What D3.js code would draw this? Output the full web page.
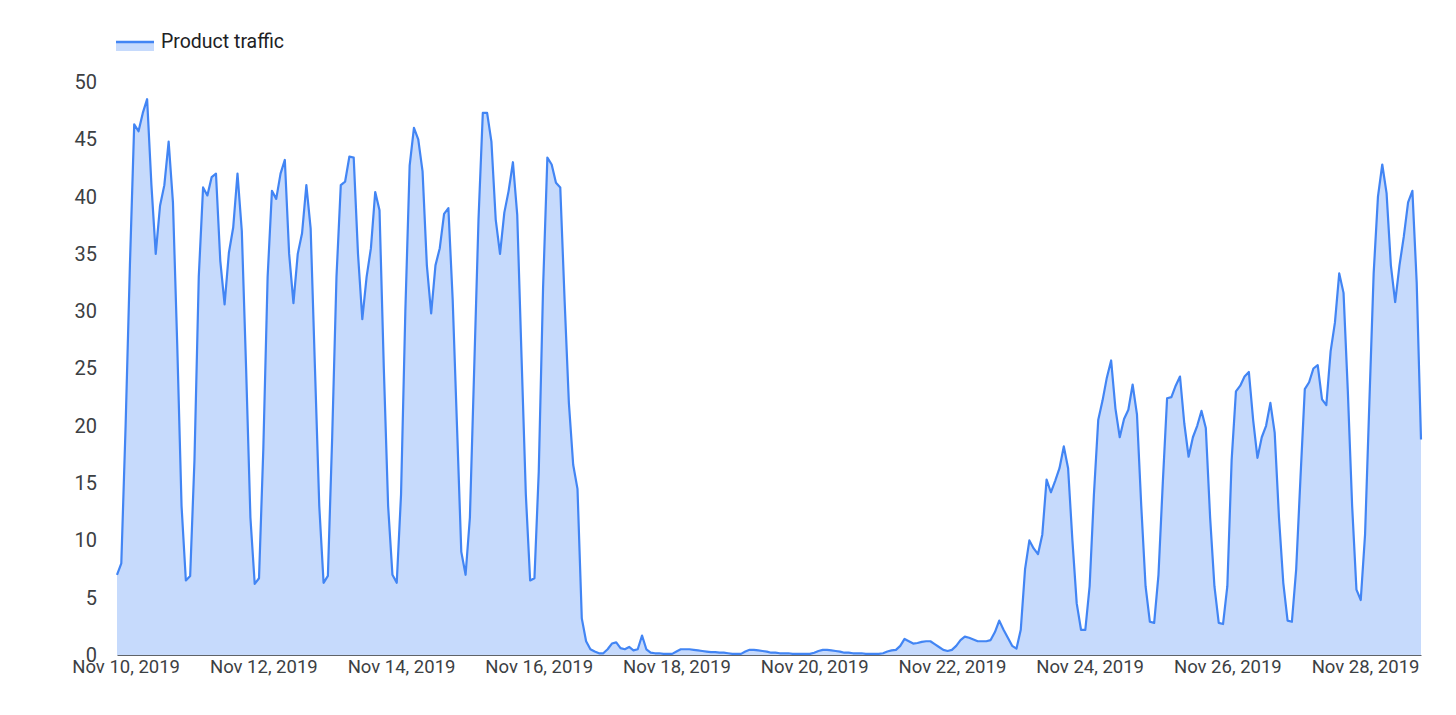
<!DOCTYPE html>
<html>
<head>
<meta charset="utf-8">
<script src="https://cdn.jsdelivr.net/npm/d3@7"></script>
<style>
  body { margin: 0; background: #fff; }
  text { font-family: Roboto, "Noto Sans", sans-serif; }
</style>
</head>
<body>
<script>
// readings every 90 minutes, starting Nov 9 21:00
var startTime = "2019-11-09 21:00";
var stepMinutes = 90;

// Nov 10 - Nov 16: normal weekday traffic
var busyDays = [
  7, 8, 20, 34, 46.3, 45.7, 47.3, 48.5, 41, 35, 39.2, 41, 44.8, 39.5, 27, 13,
  6.5, 6.9, 17, 33, 40.8, 40.1, 41.7, 42, 34.4, 30.6, 35.1, 37.3, 42, 37, 25, 12,
  6.2, 6.7, 18, 33, 40.5, 39.8, 42, 43.2, 35, 30.7, 35, 36.8, 41, 37.2, 25, 13,
  6.3, 6.9, 19, 33, 41, 41.3, 43.5, 43.4, 35, 29.3, 33, 35.5, 40.4, 38.8, 25, 13,
  7, 6.3, 14, 30, 42.7, 46, 45, 42.2, 34, 29.8, 34, 35.5, 38.5, 39, 31, 20,
  9, 7, 12, 25, 38, 47.3, 47.3, 44.8, 38, 35, 38.6, 40.5, 43, 38.4, 26, 14,
  6.5, 6.7, 16, 32, 43.4, 42.8, 41.2, 40.8, 31, 22, 16.6, 14.5, 3.2
];

// Nov 17 - Nov 23 morning: outage
var quietDays = [
  1.2, 0.5, 0.3, 0.15, 0.15, 0.5, 1.0, 1.1, 0.6, 0.5,
  0.7, 0.4, 0.5, 1.7, 0.5, 0.2, 0.15, 0.15, 0.1, 0.1,
  0.1, 0.3, 0.5, 0.5, 0.5, 0.45, 0.4, 0.35, 0.3, 0.25,
  0.25, 0.2, 0.2, 0.15, 0.1, 0.1, 0.1, 0.3, 0.45, 0.45,
  0.4, 0.35, 0.3, 0.2, 0.2, 0.15, 0.15, 0.15, 0.1, 0.1,
  0.1, 0.1, 0.1, 0.2, 0.35, 0.45, 0.45, 0.4, 0.35, 0.3,
  0.2, 0.2, 0.15, 0.15, 0.15, 0.1, 0.1, 0.1, 0.1, 0.15,
  0.3, 0.4, 0.45, 0.8, 1.4, 1.2, 1.0, 1.05, 1.15, 1.2,
  1.2, 0.95, 0.7, 0.45, 0.35, 0.45, 0.8, 1.3, 1.6, 1.5,
  1.35, 1.2, 1.2, 1.2, 1.3, 2.0, 3.0, 2.2, 1.5, 0.8, 0.55
];

// Nov 23 - Nov 28: recovery
var returnDays = [
  2.2, 7.5, 10, 9.3, 8.8, 10.5, 15.3, 14.2, 15.2, 16.3,
  18.2, 16.3, 10, 4.5, 2.2, 2.2, 6, 14, 20.5, 22.2,
  24.2, 25.7, 21.5, 19, 20.6, 21.4, 23.6, 21, 13, 6,
  2.9, 2.8, 7, 15, 22.4, 22.5, 23.5, 24.3, 20.2, 17.3,
  19, 20, 21.3, 19.8, 12, 6, 2.8, 2.7, 6, 17,
  23, 23.5, 24.3, 24.7, 20.5, 17.2, 19, 20, 22, 19.4,
  12, 6.3, 3, 2.9, 7.5, 15.5, 23.2, 23.8, 25, 25.3,
  22.3, 21.8, 26.5, 29, 33.3, 31.6, 23, 13, 5.7, 4.8,
  10.5, 22, 33.3, 40, 42.8, 40.3, 34, 30.8, 34, 36.5,
  39.5, 40.5, 32.5, 18.8
];

var seriesName = "Product traffic";
var yTicks = [0, 5, 10, 15, 20, 25, 30, 35, 40, 45, 50];
var tickLabels = ["Nov 10, 2019", "Nov 12, 2019", "Nov 14, 2019", "Nov 16, 2019", "Nov 18, 2019",
  "Nov 20, 2019", "Nov 22, 2019", "Nov 24, 2019", "Nov 26, 2019", "Nov 28, 2019"];

var w = 1456;
var h = 715;
var plotLeft = 117, plotRight = 1421, plotTop = 82, plotBottom = 655;

var t0 = d3.timeParse("%Y-%m-%d %H:%M")(startTime);
var values = busyDays.concat(quietDays, returnDays);
var dataset = values.map(function(v, i) {
  return { t: d3.timeMinute.offset(t0, i * stepMinutes), v: v };
});
var parseTick = d3.timeParse("%b %d, %Y");
var tickDates = tickLabels.map(parseTick);

var svg = d3.select("body")
  .append("svg")
  .attr("width", w)
  .attr("height", h);

var x = d3.scaleTime()
  .domain(d3.extent(dataset, function(d) { return d.t; }))
  .range([plotLeft, plotRight]);
var y = d3.scaleLinear()
  .domain([0, 50])
  .range([plotBottom, plotTop]);

// area + line
var area = d3.area()
  .x(function(d) { return x(d.t); })
  .y0(y(0))
  .y1(function(d) { return y(d.v); });
var line = d3.line()
  .x(function(d) { return x(d.t); })
  .y(function(d) { return y(d.v); });

svg.append("path")
  .datum(dataset)
  .attr("d", area)
  .attr("fill", "#c6dafc");

svg.append("path")
  .datum(dataset)
  .attr("d", line)
  .attr("fill", "none")
  .attr("stroke", "#4285f4")
  .attr("stroke-width", 2.2)
  .attr("stroke-linejoin", "round");

// x axis
var xAxis = d3.axisBottom(x)
  .tickValues(tickDates)
  .tickFormat(d3.timeFormat("%b %d, %Y"))
  .tickSize(0)
  .tickPadding(5);
var gx = svg.append("g")
  .attr("transform", "translate(0," + plotBottom + ")")
  .call(xAxis);
gx.select(".domain").attr("stroke", "#5f6368").attr("stroke-width", 1.2);
gx.selectAll("text")
  .attr("font-size", "18.5px")
  .attr("fill", "#3c4043")
  .style("font-family", "Roboto, sans-serif");

// y axis
var yAxis = d3.axisLeft(y)
  .tickValues(yTicks)
  .tickSize(0)
  .tickPadding(20);
var gy = svg.append("g")
  .attr("transform", "translate(" + plotLeft + ",0)")
  .call(yAxis);
gy.select(".domain").remove();
gy.selectAll("text")
  .attr("font-size", "20px")
  .attr("fill", "#3c4043")
  .style("font-family", "Roboto, sans-serif");

// legend
var legend = svg.append("g").attr("transform", "translate(116,40)");
legend.append("rect")
  .attr("x", 0).attr("y", 1)
  .attr("width", 38).attr("height", 10)
  .attr("fill", "#c6dafc");
legend.append("line")
  .attr("x1", 0).attr("x2", 38)
  .attr("y1", 2).attr("y2", 2)
  .attr("stroke", "#4285f4")
  .attr("stroke-width", 2.5);
legend.append("text")
  .attr("x", 45)
  .attr("y", 8)
  .text(seriesName)
  .attr("font-size", "19.5px")
  .attr("fill", "#202124");
</script>
</body>
</html>
